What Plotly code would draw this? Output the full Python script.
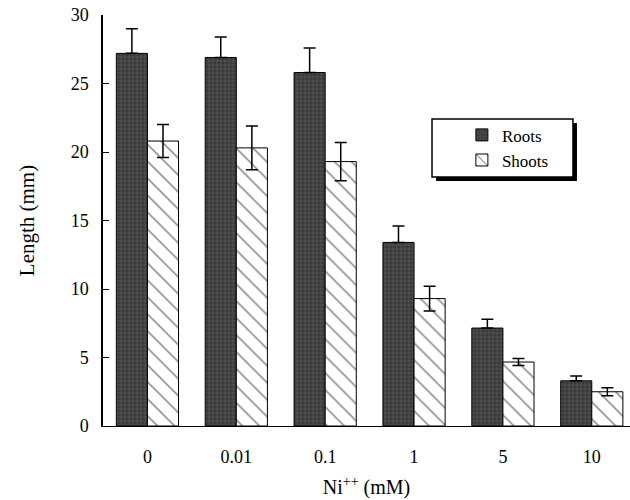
import plotly.graph_objects as go

categories = ["0", "0.01", "0.1", "1", "5", "10"]
roots = [27.2, 26.9, 25.8, 13.4, 7.15, 3.3]
roots_err = [1.8, 1.5, 1.8, 1.2, 0.65, 0.35]
shoots = [20.8, 20.3, 19.3, 9.3, 4.67, 2.5]
shoots_err = [1.2, 1.6, 1.4, 0.9, 0.25, 0.3]
y_ticks = [0, 5, 10, 15, 20, 25, 30]

FONT = "Liberation Serif"

fig = go.Figure()
fig.add_trace(go.Bar(
    name="Roots", x=categories, y=roots,
    marker=dict(color="#3a3a3a", line=dict(color="black", width=1),
                pattern=dict(shape="+", fgcolor="#7a7a7a", bgcolor="#3a3a3a", size=4, solidity=0.3)),
    error_y=dict(type="data", array=roots_err, arrayminus=[0]*len(roots_err), symmetric=False,
                 color="black", thickness=1.5, width=6),
))
fig.add_trace(go.Bar(
    name="Shoots", x=categories, y=shoots,
    marker=dict(color="white", line=dict(color="black", width=1),
                pattern=dict(shape="\\", fgcolor="black", bgcolor="white", size=12, solidity=0.12)),
    error_y=dict(type="data", array=shoots_err, color="black", thickness=1.5, width=6),
))

# legend box with drop shadow
fig.add_shape(type="rect", xref="paper", yref="paper",
              x0=0.632, x1=0.8994, y0=0.5961, y1=0.7373,
              fillcolor="black", line=dict(width=0), layer="above")
fig.add_shape(type="rect", xref="paper", yref="paper",
              x0=0.6243, x1=0.8918, y0=0.6058, y1=0.747,
              fillcolor="white", line=dict(color="black", width=1.5), layer="above")

fig.update_layout(
    width=630, height=500,
    margin=dict(l=103, r=0, t=15, b=74, autoexpand=False),
    paper_bgcolor="white", plot_bgcolor="white",
    barmode="group", bargap=0.3, bargroupgap=0,
    font=dict(family=FONT, size=18, color="black"),
    showlegend=True,
    legend=dict(x=0.681, y=0.751, xanchor="left", yanchor="top",
                bgcolor="rgba(0,0,0,0)", borderwidth=0,
                font=dict(family=FONT, size=17), itemwidth=30,
                tracegroupgap=0),
    xaxis=dict(range=[-0.5, 5.43], showline=True, linecolor="black", linewidth=1,
               ticks="", showgrid=False, zeroline=False, automargin=False,
               ticklabelstandoff=14, tickfont=dict(size=18),
               title=dict(text="Ni<sup>++</sup> (mM)", font=dict(family=FONT, size=20), standoff=14)),
    yaxis=dict(range=[0, 30], tickvals=y_ticks, showline=True, linecolor="black", linewidth=1.5,
               ticks="inside", ticklen=6, tickcolor="black", showgrid=False, zeroline=False,
               automargin=False, ticklabelstandoff=9, tickfont=dict(size=18),
               title=dict(text="Length (mm)", font=dict(family=FONT, size=21), standoff=30)),
)

fig.write_html("out.html", config={"displayModeBar": False},
               post_script="document.body.style.margin='0';")
